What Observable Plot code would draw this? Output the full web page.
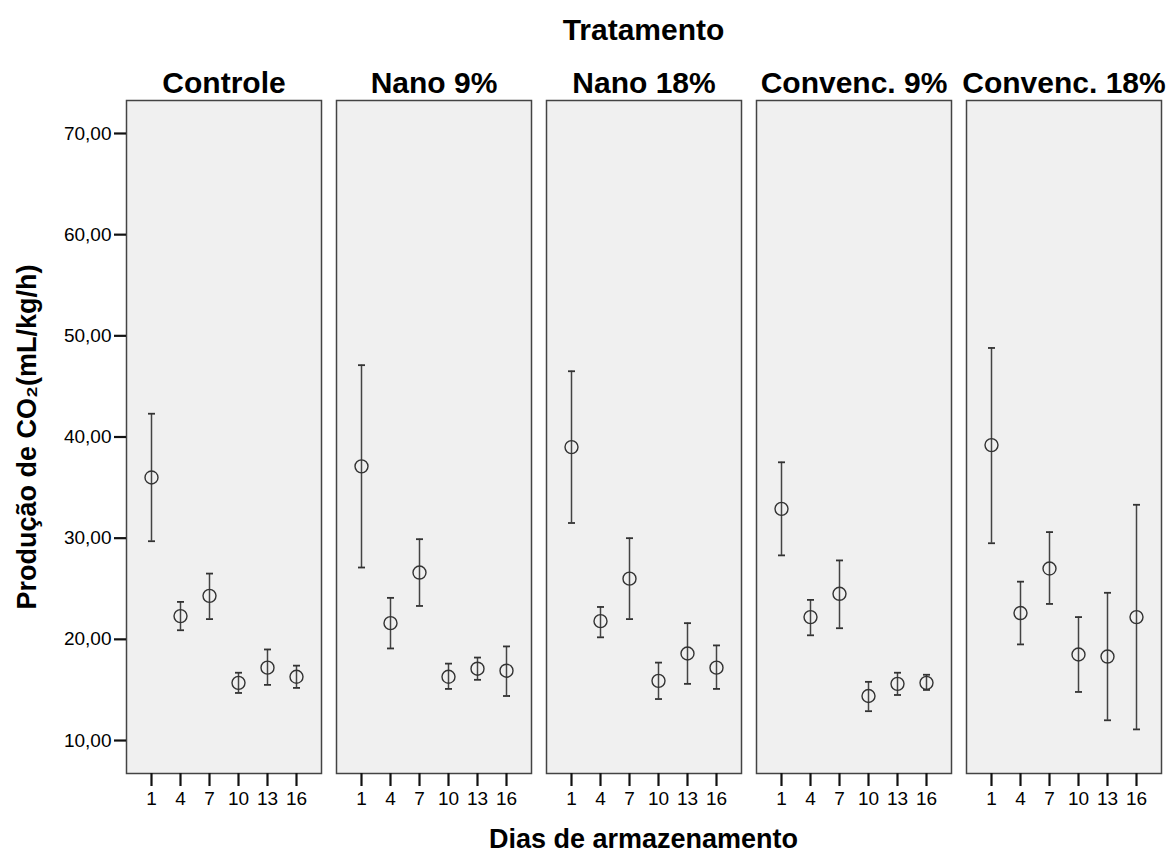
<!DOCTYPE html>
<html>
<head>
<meta charset="utf-8">
<script src="https://cdn.jsdelivr.net/npm/d3@7"></script>
<script src="https://cdn.jsdelivr.net/npm/@observablehq/plot@0.6"></script>
<style>
  body { margin: 0; background: #fff; font-family: "Liberation Sans", Arial, sans-serif; }
  #title { margin-left: 125px; width: 1037px; height: 50px; box-sizing: border-box; padding-top: 14px; line-height: 32px; font-size: 30px; font-weight: bold; text-align: center; color: #000; }
  #xlabel { margin-left: 125px; width: 1037px; line-height: 28px; font-size: 27px; font-weight: bold; text-align: center; color: #000; }
  #chart svg g[aria-label="fx-axis tick label"] text { font-size: 30px; font-weight: bold; }
  #chart svg g[aria-label="x-axis tick label"] text { font-size: 19px; }
  #chart svg g[aria-label="y-axis tick label"] text { font-size: 19px; }
  #chart svg g[aria-label="y-axis label"] text { font-size: 27px; font-weight: bold; }
</style>
</head>
<body>
<div id="title">Tratamento</div>
<div id="chart"></div>
<div id="xlabel">Dias de armazenamento</div>
<script>
const treatments = ["Controle", "Nano 9%", "Nano 18%", "Convenc. 9%", "Convenc. 18%"];
const days = [1, 4, 7, 10, 13, 16];
const yTicks = [10, 20, 30, 40, 50, 60, 70];

const controleMean = [36.0, 22.3, 24.3, 15.7, 17.2, 16.3];
const controleLow  = [29.7, 20.9, 22.0, 14.7, 15.5, 15.2];
const controleHigh = [42.3, 23.7, 26.5, 16.7, 19.0, 17.4];

const nano9Mean = [37.1, 21.6, 26.6, 16.3, 17.1, 16.9];
const nano9Low  = [27.1, 19.1, 23.3, 15.1, 16.0, 14.4];
const nano9High = [47.1, 24.1, 29.9, 17.6, 18.2, 19.3];

const nano18Mean = [39.0, 21.8, 26.0, 15.9, 18.6, 17.2];
const nano18Low  = [31.5, 20.2, 22.0, 14.1, 15.6, 15.1];
const nano18High = [46.5, 23.2, 30.0, 17.7, 21.6, 19.4];

const conv9Mean = [32.9, 22.2, 24.5, 14.4, 15.6, 15.7];
const conv9Low  = [28.3, 20.4, 21.1, 12.9, 14.5, 15.0];
const conv9High = [37.5, 23.9, 27.8, 15.8, 16.7, 16.5];

const conv18Mean = [39.2, 22.6, 27.0, 18.5, 18.3, 22.2];
const conv18Low  = [29.5, 19.5, 23.5, 14.8, 12.0, 11.1];
const conv18High = [48.8, 25.7, 30.6, 22.2, 24.6, 33.3];

const series = [
  [controleMean, controleLow, controleHigh],
  [nano9Mean, nano9Low, nano9High],
  [nano18Mean, nano18Low, nano18High],
  [conv9Mean, conv9Low, conv9High],
  [conv18Mean, conv18Low, conv18High]
];

const rows = [];
treatments.forEach((t, i) => {
  const [m, lo, hi] = series[i];
  days.forEach((d, j) => rows.push({t, day: d, mean: m[j], lo: lo[j], hi: hi[j]}));
});

const cap = {
  draw(context) {
    context.moveTo(-3.5, 0);
    context.lineTo(3.5, 0);
  }
};

const chart = Plot.plot({
  width: 1170,
  height: 775,
  marginTop: 50,
  marginBottom: 52,
  marginLeft: 125,
  marginRight: 8,
  style: {fontFamily: '"Liberation Sans", Arial, sans-serif', fontSize: "19px", color: "#000", background: "transparent", overflow: "visible"},
  fx: {domain: treatments, paddingInner: 0.071, paddingOuter: 0, label: null},
  x: {type: "point", domain: days, padding: 0.85, label: null},
  y: {domain: [6.74, 73.26], label: null},
  marks: [
    Plot.frame({fill: "#f0f0f0", stroke: "#444", strokeWidth: 1.5}),
    Plot.axisFx({anchor: "top", tickSize: 0, tickPadding: 8, label: null, fontSize: 30, fontWeight: "bold"}),
    Plot.axisX({ticks: days, tickSize: 13, tickPadding: 5, strokeWidth: 2.2, stroke: "#111", fontSize: 19, label: null}),
    Plot.axisY({
      ticks: yTicks,
      tickFormat: d => d.toFixed(2).replace(".", ","),
      tickSize: 12, tickPadding: 3, strokeWidth: 2.2, stroke: "#111", fontSize: 19,
      label: "Produção de CO₂(mL/kg/h)", labelAnchor: "center", labelOffset: 110, labelArrow: "none"
    }),
    Plot.ruleX(rows, {fx: "t", x: "day", y1: "lo", y2: "hi", stroke: "#444", strokeWidth: 1.5}),
    Plot.dot(rows, {fx: "t", x: "day", y: "lo", symbol: cap, fill: "none", stroke: "#333", strokeWidth: 1.8}),
    Plot.dot(rows, {fx: "t", x: "day", y: "hi", symbol: cap, fill: "none", stroke: "#333", strokeWidth: 1.8}),
    Plot.dot(rows, {fx: "t", x: "day", y: "mean", r: 6.5, fill: "none", stroke: "#333", strokeWidth: 1.4})
  ]
});
document.getElementById("chart").appendChild(chart);
</script>
</body>
</html>
